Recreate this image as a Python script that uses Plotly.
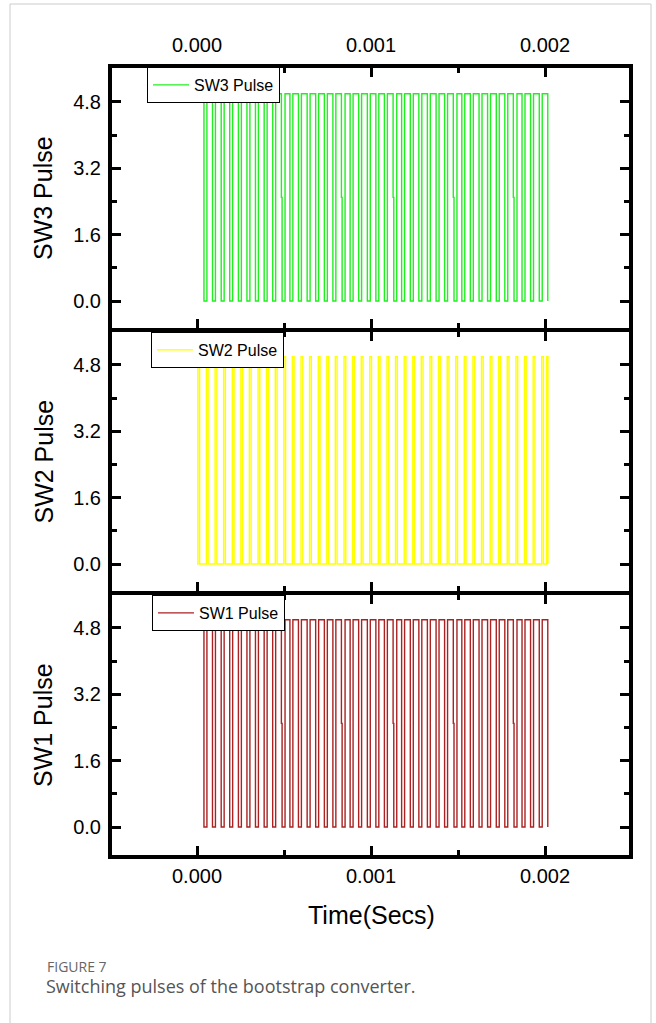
import plotly.graph_objects as go

# ---- data (times in ms) ----
# SW1 / SW3: high pulses with short low dips; times where the signal drops to 0
SW13_FALL_MS = [0.040, 0.089, 0.139, 0.188, 0.238, 0.287, 0.336, 0.386, 0.435, 0.485,
                0.534, 0.583, 0.633, 0.682, 0.732, 0.781, 0.830, 0.880, 0.929, 0.979,
                1.028, 1.077, 1.127, 1.176, 1.226, 1.275, 1.324, 1.374, 1.423, 1.473,
                1.522, 1.571, 1.621, 1.670, 1.720, 1.769, 1.818, 1.868, 1.917, 1.967,
                2.016]
SW13_LOW_WIDTH_MS = 0.017
# falling edges that show an intermediate sample at half level
SW13_GLITCH_MS = [0.485, 0.830, 1.127, 1.473, 1.818]
GLITCH_LEVEL = 2.5
# SW2: narrow high pulses; times where the signal rises to the high level
SW2_RISE_MS = [0.005, 0.054, 0.104, 0.153, 0.203, 0.252, 0.301, 0.351, 0.400, 0.450,
               0.499, 0.548, 0.598, 0.647, 0.697, 0.746, 0.795, 0.845, 0.894, 0.944,
               0.993, 1.042, 1.092, 1.141, 1.191, 1.240, 1.289, 1.339, 1.388, 1.438,
               1.487, 1.536, 1.586, 1.635, 1.685, 1.734, 1.783, 1.833, 1.882, 1.932,
               1.981, 2.010]
SW2_HIGH_WIDTH_MS = 0.010
HIGH = 5.0
LOW = 0.0
END_MS = 2.017

X_TICKS = [0.0, 0.001, 0.002]
X_TICK_TEXT = ["0.000", "0.001", "0.002"]
X_MINOR = [0.0005, 0.0015]
Y_TICKS = [0.0, 1.6, 3.2, 4.8]
Y_TICK_TEXT = ["0.0", "1.6", "3.2", "4.8"]
Y_MINOR = [0.8, 2.4, 4.0, 5.6]
PANEL_TITLES = ["SW3 Pulse", "SW2 Pulse", "SW1 Pulse"]


def build_sw13():
    xs, ys = [0.0], [HIGH]
    for i, f in enumerate(SW13_FALL_MS):
        if f in SW13_GLITCH_MS:
            xs += [f, f, f + 0.004, f + 0.004]
            ys += [HIGH, GLITCH_LEVEL, GLITCH_LEVEL, LOW]
            f = f + 0.004
        else:
            xs += [f, f]
            ys += [HIGH, LOW]
        if i < len(SW13_FALL_MS) - 1:
            r = f + SW13_LOW_WIDTH_MS
            xs += [r, r]
            ys += [LOW, HIGH]
    return [v * 1e-3 for v in xs], ys


def build_sw2():
    xs, ys = [0.0], [LOW]
    for r in SW2_RISE_MS:
        f = min(r + SW2_HIGH_WIDTH_MS, END_MS)
        xs += [r, r, f, f]
        ys += [LOW, HIGH, HIGH, LOW]
    return [v * 1e-3 for v in xs], ys


x13, y13 = build_sw13()
x2, y2 = build_sw2()

FONT = "Liberation Sans, Arial, sans-serif"
CAP_FONT = "Open Sans, Noto Sans, sans-serif"

fig = go.Figure()
fig.add_trace(go.Scatter(x=x13, y=y13, mode="lines", name="SW3 Pulse",
                         line=dict(color="#22ee22", width=1.4),
                         xaxis="x", yaxis="y", legend="legend"))
fig.add_trace(go.Scatter(x=x2, y=y2, mode="lines", name="SW2 Pulse",
                         line=dict(color="#ffff00", width=1.4),
                         xaxis="x2", yaxis="y2", legend="legend2"))
fig.add_trace(go.Scatter(x=x13, y=y13, mode="lines", name="SW1 Pulse",
                         line=dict(color="#aa2222", width=1.4),
                         xaxis="x3", yaxis="y3", legend="legend3"))

W, H = 656, 1023
LW = 4
# frame line centres (px)
FL, FR = 110, 631
SEPS = [66, 330, 593, 857]
ZERO_PX = [301, 564, 827]
PX_PER_UNIT = 41.46
X0_PX, PX_PER_MS = 197, 174

dl, dr = FL + LW / 2, FR - LW / 2
xr0 = (dl - X0_PX) / PX_PER_MS * 1e-3
xr1 = (dr - X0_PX) / PX_PER_MS * 1e-3

common = dict(showline=True, linewidth=LW, linecolor="black", mirror="allticks",
              ticks="inside", ticklen=9, tickwidth=3, tickcolor="black",
              showgrid=False, zeroline=False,
              tickfont=dict(family=FONT, size=20, color="black"))

doms = []
for i in range(3):
    sx = "" if i == 0 else str(i + 1)
    top_px = SEPS[i] + LW / 2
    bot_px = SEPS[i + 1] - LW / 2
    dom = [1 - bot_px / H, 1 - top_px / H]
    doms.append(dom)
    yr1 = (ZERO_PX[i] - top_px) / PX_PER_UNIT
    yr0 = (ZERO_PX[i] - bot_px) / PX_PER_UNIT
    xa = dict(common)
    xa.update(domain=[dl / W, dr / W], range=[xr0, xr1], anchor="y" + sx,
              tickvals=X_TICKS, ticktext=X_TICK_TEXT,
              minor=dict(ticks="inside", ticklen=5, tickwidth=3, tickcolor="black",
                         tickvals=X_MINOR))
    if i == 0:
        xa.update(side="top", showticklabels=True, ticklabelstandoff=4)
    elif i == 1:
        xa.update(showticklabels=False)
    else:
        xa.update(side="bottom", showticklabels=True, ticklabelstandoff=0)
    ya = dict(common)
    ya.update(domain=dom, range=[yr0, yr1], anchor="x" + sx,
              tickvals=Y_TICKS, ticktext=Y_TICK_TEXT,
              minor=dict(ticks="inside", ticklen=5, tickwidth=3, tickcolor="black",
                         tickvals=Y_MINOR),
              ticklabelstandoff=3)
    fig.layout["xaxis" + sx] = xa
    fig.layout["yaxis" + sx] = ya

leg_common = dict(bgcolor="white", bordercolor="black", borderwidth=1,
                  font=dict(family=FONT, size=16, color="black"),
                  xanchor="left", yanchor="top", itemwidth=36,
                  tracegroupgap=0)
leg_pos = [(147, 67), (151, 332), (152, 595)]
for i, (lx, ly) in enumerate(leg_pos):
    key = "legend" if i == 0 else "legend" + str(i + 1)
    d = dict(leg_common)
    d.update(x=lx / W, y=1 - ly / H)
    fig.layout[key] = d

annotations = []
for i, txt in enumerate(PANEL_TITLES):
    yc = (doms[i][0] + doms[i][1]) / 2
    annotations.append(dict(text=txt, x=43 / W, y=yc, xref="paper", yref="paper",
                            textangle=-90, showarrow=False,
                            xanchor="center", yanchor="middle",
                            font=dict(family=FONT, size=25, color="black")))
annotations.append(dict(text="Time(Secs)", x=371 / W, y=1 - 915 / H, xref="paper",
                        yref="paper", showarrow=False,
                        xanchor="center", yanchor="middle",
                        font=dict(family=FONT, size=25, color="black")))
annotations.append(dict(text="FIGURE 7", x=45 / W, y=1 - 966 / H, xref="paper",
                        yref="paper", showarrow=False, xanchor="left",
                        yanchor="middle",
                        font=dict(family=CAP_FONT, size=14, color="#666666")))
annotations.append(dict(text="Switching pulses of the bootstrap converter.",
                        x=44 / W, y=1 - 986 / H, xref="paper", yref="paper",
                        showarrow=False, xanchor="left", yanchor="middle",
                        font=dict(family=CAP_FONT, size=18, color="#555555")))

fig.update_layout(
    width=W, height=H,
    margin=dict(l=0, r=0, t=0, b=0),
    paper_bgcolor="white", plot_bgcolor="white",
    showlegend=True,
    annotations=annotations,
    shapes=[dict(type="rect", xref="paper", yref="paper",
                 x0=10 / W, x1=651 / W, y0=-0.05, y1=1 - 4 / H,
                 line=dict(color="#cccccc", width=1), fillcolor="rgba(0,0,0,0)",
                 layer="below")],
)

fig.write_html("out.html")
